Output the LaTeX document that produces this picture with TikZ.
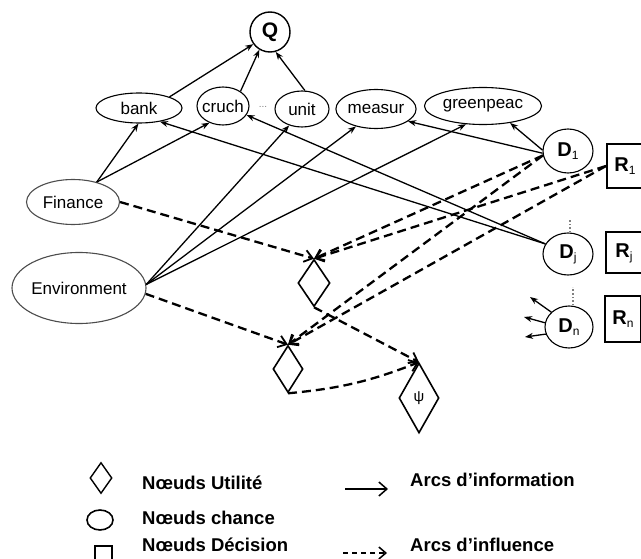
\documentclass[tikz,border=0pt]{standalone}
\usepackage{fontspec}
\setmainfont{Liberation Sans}
\usetikzlibrary{shapes.geometric,arrows.meta}
\newcommand{\sbs}[1]{\raisebox{-3pt}{\fontsize{12}{12}\selectfont\mdseries #1}}
\begin{document}
\begin{tikzpicture}[x=1pt,y=-1pt,
  chance/.style={ellipse,draw,line width=1.1pt,inner sep=0pt,font=\fontsize{17}{17}\selectfont},
  dec/.style={ellipse,draw,line width=1.1pt,inner sep=0pt,font=\fontsize{20}{20}\selectfont\bfseries},
  res/.style={rectangle,draw,line width=2pt,inner sep=0pt,minimum width=36pt,font=\fontsize{20}{20}\selectfont\bfseries},
  util/.style={diamond,draw,line width=1.6pt,inner sep=0pt},
  info/.style={line width=1.3pt,-{Stealth[length=8pt,width=6pt]}},
  infl/.style={line width=2.3pt,dash pattern=on 9pt off 5pt,-{Straight Barb[length=8pt,width=12pt,line width=1.8pt]}},
  legtext/.style={anchor=west,inner sep=0pt,font=\fontsize{18.5}{18.5}\selectfont\bfseries},
]
\useasboundingbox (0,0) rectangle (641,559);

% chance / value nodes
\node[circle,draw,line width=1.4pt,minimum size=40pt,inner sep=0pt,font=\fontsize{21}{21}\selectfont\bfseries] (Q) at (270,32) {Q};
\node[chance,minimum width=86pt,minimum height=30pt] (bank) at (139,108) {bank};
\node[chance,inner xsep=-4pt,minimum width=52pt,minimum height=38pt] (cruch) at (223,106) {cruch};
\node[text=gray,inner sep=0pt,font=\fontsize{10}{10}\selectfont] (dots) at (263,107) {...};
\node[chance,minimum width=54pt,minimum height=36pt] (unit) at (302,109) {unit};
\node[chance,minimum width=78pt,minimum height=39pt] (measur) at (376,109) {measur};
\node[chance,minimum width=117pt,minimum height=37pt] (green) at (483,106) {greenpeac};
\node[chance,draw=black!70,minimum width=93pt,minimum height=45pt] (fin) at (73,202) {Finance};
\node[chance,draw=black!70,inner xsep=-2pt,minimum width=134pt,minimum height=71pt] (env) at (79,288) {Environment};

% decision nodes
\node[dec,minimum width=50pt,minimum height=44pt] (D1) at (568,151) {D\sbs{1}};
\node[dec,minimum width=50pt,minimum height=42pt] (Dj) at (568,254) {D\sbs{j}};
\node[dec,minimum width=48pt,minimum height=42pt] (Dn) at (569,327) {D\sbs{n}};
\node[res,minimum height=44pt] (R1) at (625,166) {R\sbs{1}};
\node[res,minimum height=41pt] (Rj) at (624,253) {R\sbs{j}};
\node[res,minimum height=46pt] (Rn) at (623,319) {R\sbs{n}};

% utility nodes
\node[util,minimum width=32pt,minimum height=47pt] (u1) at (314,283) {};
\node[util,minimum width=30pt,minimum height=47pt] (u2) at (288,369) {};
\node[util,minimum width=40pt,minimum height=70pt,font=\fontsize{15}{15}\selectfont] (psi) at (419,398) {ψ};

% dotted marks
\draw[gray,dotted,line width=1.6pt] (Dj.north) ++(2,0) -- ++(0,-12);
\draw[gray,dotted,line width=1.6pt] (Dn.north) ++(4,0) -- ++(0,-18);

% information arcs
\draw[info] (bank.20) -- (Q.216);
\draw[info] (cruch.40) -- (Q.239);
\draw[info] (unit.81) -- (Q.286);
\draw[info] (fin.40) -- (bank.268);
\draw[info] (fin.40) -- (cruch.231);
\draw[info] (env.3) -- (unit.232);
\draw[info] (env.3) -- (measur.221);
\draw[info] (env.3) -- (green.227);
\draw[info] (D1.185) -- (measur.339);
\draw[info] (D1.178) -- (green.328);
\draw[info] (Dj.156) -- (bank.327);
\draw[info] (Dj.156) -- (cruch.339);
\coordinate (n1) at (530,297);
\coordinate (n2) at (524,317);
\coordinate (n3) at (525,337);
\draw[info] (Dn.140) -- (n1);
\draw[info] (Dn.170) -- (n2);
\draw[info] (Dn.197) -- (n3);

% influence arcs
\draw[infl] (fin.east) -- (u1.north);
\draw[infl] (env.355) -- (u2.north);
\draw[infl] (D1.190) -- (u1.north);
\draw[infl] (D1.190) -- (u2.north);
\draw[infl] (R1.west) -- (u1.north);
\draw[infl] (R1.west) -- (u2.north);
\draw[infl] (u1.south) -- (psi.north);
\draw[infl] (u2.south) to[bend right=8] (psi.north);

% legend
\node[util,line width=1.4pt,minimum width=22pt,minimum height=31pt] (lu) at (101,478) {};
\node[ellipse,draw,line width=1.6pt,minimum width=26pt,minimum height=20pt,inner sep=0pt] (lc) at (100,520) {};
\node[rectangle,draw,line width=1.6pt,minimum size=17pt,inner sep=0pt] (ld) at (103.5,554.5) {};
\node[legtext] (t1) at (142,483) {Nœuds Utilité};
\node[legtext] (t2) at (142,518) {Nœuds chance};
\node[legtext] (t3) at (142,545) {Nœuds Décision};
\node[legtext] (t4) at (410,480) {Arcs d’information};
\node[legtext] (t5) at (410,545) {Arcs d’influence};
\coordinate (a1s) at (345,489);
\coordinate (a1e) at (388,489);
\coordinate (a2s) at (343,553);
\coordinate (a2e) at (387,553);
\draw[line width=1.5pt,-{Straight Barb[length=8pt,width=14pt,line width=1.5pt]}] (a1s) -- (a1e);
\draw[line width=1.5pt,dash pattern=on 5pt off 4pt,-{Straight Barb[length=7pt,width=12pt,line width=1.5pt]}] (a2s) -- (a2e);
\end{tikzpicture}
\end{document}
